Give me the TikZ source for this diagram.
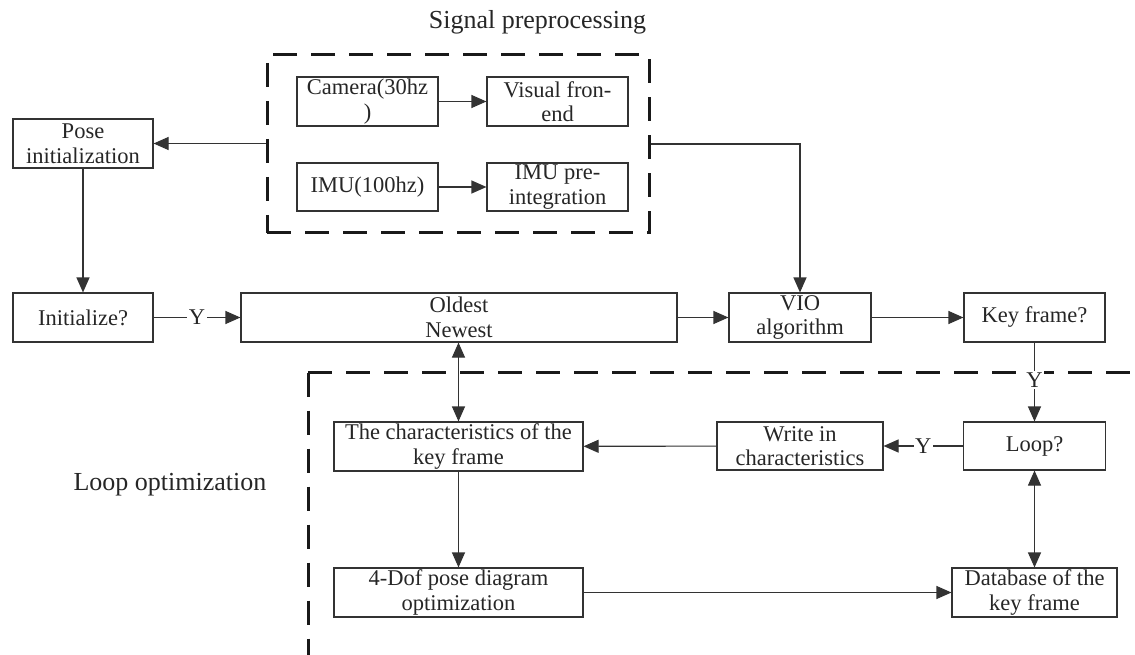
\documentclass[tikz,border=0pt]{standalone}
\usepackage{fontspec}
\setmainfont{Liberation Serif}
\usetikzlibrary{arrows.meta}
\begin{document}
\begin{tikzpicture}[x=1pt,y=-1pt,
  box/.style={draw=black!80,line width=1.1pt,inner sep=0pt,align=center,
    font=\fontsize{22.5}{24.5}\selectfont,text=black!85},
  conn/.style={line width=1.1pt,draw=black!80,-{Triangle[length=15pt,width=13pt]}},
  dconn/.style={line width=1.1pt,draw=black!80,{Triangle[length=15pt,width=13pt]}-{Triangle[length=15pt,width=13pt]}},
  grp/.style={draw=black!90,line width=3pt,dash pattern=on 24pt off 14pt},
  ylab/.style={fill=white,inner sep=1.5pt,font=\fontsize{22.5}{24}\selectfont,text=black!85},
  title/.style={font=\fontsize{26}{30}\selectfont,text=black!85,anchor=base}]
\useasboundingbox (0,0) rectangle (1135,655);
% signal preprocessing group
\node[grp,minimum width=382pt,minimum height=178pt,inner sep=0pt] (sp) at (458,144) {};
\node[title] (sptitle) at (537.5,29) {Signal preprocessing};
\node[box,minimum width=141pt,minimum height=49pt] (cam) at (367.5,101.5) {Camera(30hz\\)};
\node[box,minimum width=141pt,minimum height=49pt] (vis) at (557.5,101.5) {Visual fron-\\end};
\node[box,minimum width=141pt,minimum height=48pt] (imu) at (367.5,187) {IMU(100hz)};
\node[box,minimum width=141pt,minimum height=48pt] (pre) at (557.5,187) {IMU pre-\\integration};
% main row
\node[box,minimum width=140pt,minimum height=49pt] (pose) at (83,143.5) {Pose\\initialization};
\node[box,minimum width=140pt,minimum height=49pt] (init) at (83,317.5) {Initialize?};
\node[box,minimum width=436pt,minimum height=49pt] (win) at (459,317.5) {Oldest\\Newest};
\node[box,minimum width=142pt,minimum height=49pt] (vio) at (800,317.5) {VIO\\algorithm};
\node[box,minimum width=141pt,minimum height=49pt] (key) at (1034.5,317.5) {Key frame?};
% loop optimization group
\coordinate (lc) at (308,372.5);
\coordinate (lr) at (1135,372.5);
\coordinate (lb) at (308,655);
\draw[grp] (lc) -- (lr);
\draw[grp] (lc) -- (lb);
\node[title] (lotitle) at (170,490) {Loop optimization};
\node[box,minimum width=249pt,minimum height=49pt] (chr) at (458.5,446.5) {The characteristics of the\\key frame};
\node[box,minimum width=166pt,minimum height=48pt] (wri) at (800,446) {Write in\\characteristics};
\node[box,minimum width=142pt,minimum height=48pt] (loop) at (1034.5,446) {Loop?};
\node[box,minimum width=249pt,minimum height=49pt] (dof) at (458.5,592.5) {4-Dof pose diagram\\optimization};
\node[box,minimum width=165pt,minimum height=49pt] (db) at (1034.5,592.5) {Database of the\\key frame};
% connectors
\draw[conn] (cam) -- (vis);
\draw[conn] (imu) -- (pre);
\draw[conn] (sp.west |- pose.east) -- (pose.east);
\draw[conn] (sp.east) -| (vio.north);
\draw[conn] (pose) -- (init);
\draw[conn] (init) -- node[ylab] {Y} (win);
\draw[conn] (win) -- (vio);
\draw[conn] (vio) -- (key);
\draw[conn] (key) -- node[ylab,pos=0.47] {Y} (loop);
\draw[conn] (loop) -- node[ylab] {Y} (wri);
\draw[conn] (wri) -- (chr);
\draw[dconn] (win.south -| chr.north) -- (chr.north);
\draw[conn] (chr) -- (dof);
\draw[conn] (dof) -- (db);
\draw[dconn] (loop) -- (db);
\end{tikzpicture}
\end{document}
